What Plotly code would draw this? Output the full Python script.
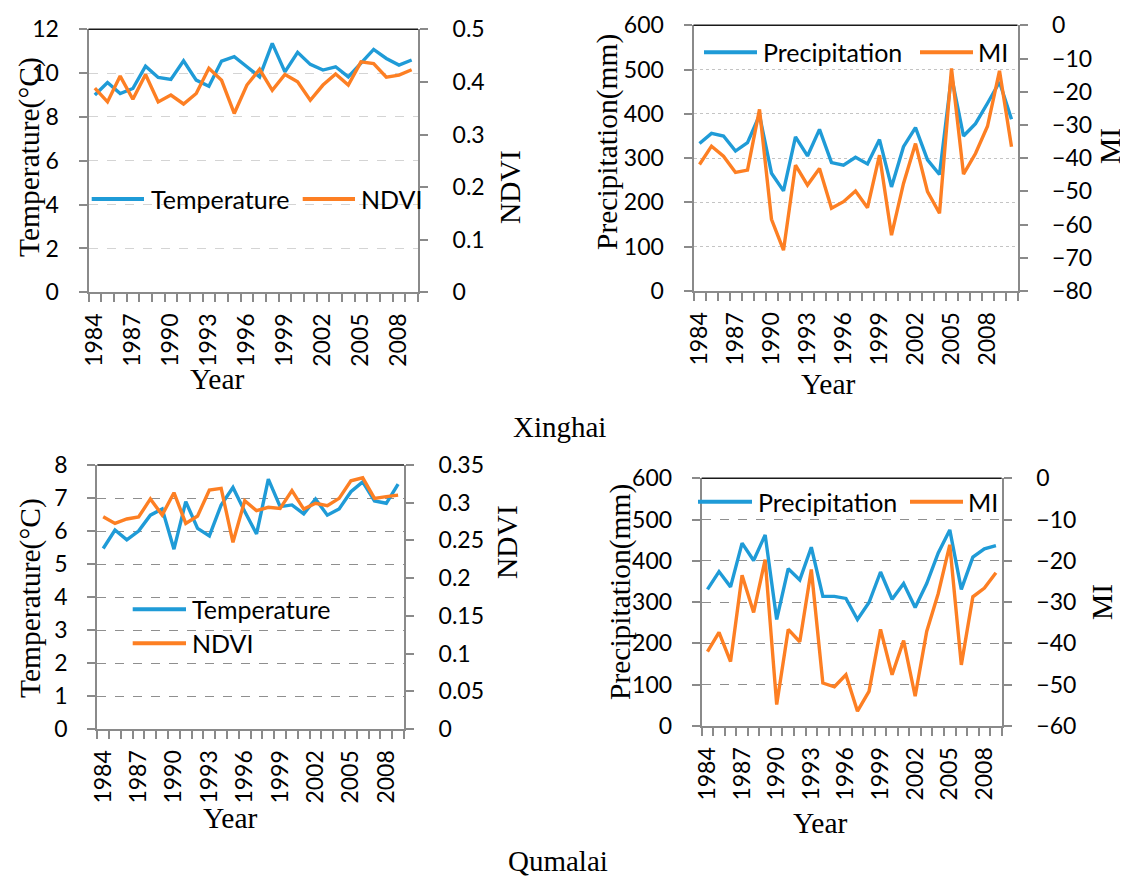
import plotly.graph_objects as go

# ---------------- data ----------------
years_a = list(range(1984, 2010))          # 26 years
years_b = list(range(1984, 2011))          # 27 years (Xinghai precipitation / MI)

xh_temperature = [9.0, 9.57, 9.07, 9.3, 10.32, 9.8, 9.71, 10.56, 9.68, 9.4, 10.55, 10.75, 10.29,
                  9.83, 11.36, 10.06, 10.95, 10.4, 10.14, 10.29, 9.83, 10.44, 11.08, 10.67, 10.37, 10.6]
xh_ndvi = [0.388, 0.362, 0.411, 0.367, 0.414, 0.362, 0.375, 0.358, 0.378, 0.426, 0.403, 0.340, 0.394,
           0.424, 0.384, 0.414, 0.400, 0.365, 0.394, 0.415, 0.394, 0.438, 0.435, 0.409, 0.413, 0.423]

xh_precip = [333, 356, 350, 316, 335, 397, 266, 226, 348, 305, 365, 290, 284, 302, 287, 342, 235,
             326, 369, 296, 263, 485, 350, 378, 424, 472, 388]
xh_mi = [-41.9, -36.4, -39.4, -44.3, -43.6, -25.3, -58.4, -67.7, -42.1, -48.1, -43.1, -55.1, -53.1,
         -49.9, -54.9, -39.1, -63.2, -47.6, -35.6, -50.1, -56.6, -13.0, -44.8, -38.6, -30.4, -13.7, -36.6]

qm_temperature = [5.47, 6.03, 5.73, 6.0, 6.48, 6.67, 5.45, 6.89, 6.08, 5.85, 6.79, 7.32, 6.59, 5.91,
                  7.57, 6.74, 6.79, 6.52, 6.97, 6.48, 6.67, 7.19, 7.49, 6.91, 6.84, 7.42]
qm_ndvi = [0.2815, 0.2726, 0.2784, 0.281, 0.305, 0.2837, 0.3133, 0.2726, 0.2824, 0.3168, 0.319, 0.2475,
           0.3027, 0.2894, 0.2939, 0.2925, 0.316, 0.2916, 0.2992, 0.296, 0.3058, 0.329, 0.333, 0.3058,
           0.308, 0.310]

qm_precip = [331, 374, 337, 443, 401, 463, 258, 381, 354, 433, 314, 314, 309, 258, 299, 373, 307, 345,
             287, 345, 419, 475, 331, 409, 429, 437]
qm_mi = [-42.0, -37.3, -44.4, -23.5, -32.5, -19.7, -54.8, -36.6, -39.6, -22.1, -49.6, -50.5, -47.6,
         -56.4, -51.6, -36.6, -47.6, -39.3, -52.8, -37.1, -27.9, -16.1, -45.2, -28.7, -26.6, -22.9]

year_ticks = [1984, 1987, 1990, 1993, 1996, 1999, 2002, 2005, 2008]
ndvi_ticks_qm = [0, 0.05, 0.1, 0.15, 0.2, 0.25, 0.3, 0.35]
ndvi_ticktext_qm = ["0", "0.05", "0.1", "0.15", "0.2", "0.25", "0.3", "0.35"]

# ---------------- style ----------------
OFF = 8                      # default page margin of the html body
W, H = 1128 - OFF, 876 - OFF
BLUE = "#1f9bd7"
ORANGE = "#fd7f23"
AXIS_GRAY = "#8a8a8a"
TICK_FONT = dict(family="Lato", size=23, color="black")
XTICK_FONT = dict(family="Lato", size=23, color="black")
TITLE_FONT = dict(family="Liberation Serif", size=29.5, color="black")
SITE_FONT = dict(family="Liberation Serif", size=29, color="black")
LEG_FONT = dict(family="Lato", size=25, color="black")


def px_x(v):
    return (v - OFF) / W


def px_y(v):
    return 1 - (v - OFF) / H


fig = go.Figure()

panels = [
    dict(xd=(88.5, 418), yd=(29.3, 292.3), years=years_a,
         left=xh_temperature, right=xh_ndvi, ln="Temperature", rn="NDVI",
         lr=[0, 12], ldt=2, rr=[0, 0.5], rdt=0.1, rtv=None, rtt=None,
         gdash="dash", gcol="#d4d4d4"),
    dict(xd=(693.5, 1017.5), yd=(25.3, 291), years=years_b,
         left=xh_precip, right=xh_mi, ln="Precipitation", rn="MI",
         lr=[0, 600], ldt=100, rr=[-80, 0], rdt=10, rtv=None, rtt=None,
         gdash="dot", gcol="#c4c4c4"),
    dict(xd=(97.3, 404), yd=(465, 729), years=years_a,
         left=qm_temperature, right=qm_ndvi, ln="Temperature", rn="NDVI",
         lr=[0, 8], ldt=1, rr=[0, 0.35], rdt=None, rtv=ndvi_ticks_qm, rtt=ndvi_ticktext_qm,
         gdash="dash", gcol="#8f8f8f"),
    dict(xd=(701.7, 1001.7), yd=(478.3, 726), years=years_a,
         left=qm_precip, right=qm_mi, ln="Precipitation", rn="MI",
         lr=[0, 600], ldt=100, rr=[-60, 0], rdt=10, rtv=None, rtt=None,
         gdash="dash", gcol="#8f8f8f"),
]

layout = {}
for i, p in enumerate(panels):
    xn = i + 1
    yl = 2 * i + 1
    yr = 2 * i + 2
    xname = "x" if xn == 1 else f"x{xn}"
    ylname = "y" if yl == 1 else f"y{yl}"
    yrname = f"y{yr}"

    fig.add_trace(go.Scatter(x=p["years"], y=p["left"], name=p["ln"], mode="lines",
                             line=dict(color=BLUE, width=3.4), xaxis=xname, yaxis=ylname,
                             showlegend=False))
    fig.add_trace(go.Scatter(x=p["years"], y=p["right"], name=p["rn"], mode="lines",
                             line=dict(color=ORANGE, width=3.4), xaxis=xname, yaxis=yrname,
                             showlegend=False))

    y0, y1 = p["yd"]
    xdom = [px_x(p["xd"][0]), px_x(p["xd"][1])]
    ydom = [px_y(y1), px_y(y0)]
    first, last = p["years"][0], p["years"][-1]

    layout["xaxis" if xn == 1 else f"xaxis{xn}"] = dict(
        domain=xdom, anchor=ylname, range=[first - 0.5, last + 0.5], automargin=False,
        tickmode="array", tickvals=year_ticks, ticktext=[str(t) for t in year_ticks],
        tickangle=-90, ticks="", tickfont=XTICK_FONT, ticklabelstandoff=10,
        showline=True, linecolor=AXIS_GRAY, linewidth=2, showgrid=False, zeroline=False,
        minor=dict(ticks="outside", ticklen=8, tickcolor=AXIS_GRAY, tickwidth=1.5,
                   tick0=first - 0.5, dtick=1, showgrid=False),
        fixedrange=True,
    )
    layout["yaxis" if yl == 1 else f"yaxis{yl}"] = dict(
        domain=ydom, anchor=xname, range=p["lr"], dtick=p["ldt"], tick0=0, automargin=False,
        ticks="outside", ticklen=8, tickcolor=AXIS_GRAY, tickwidth=1.5,
        tickfont=TICK_FONT, ticklabelstandoff=15,
        showline=True, linecolor=AXIS_GRAY, linewidth=2,
        showgrid=True, gridcolor=p["gcol"], griddash=p["gdash"], gridwidth=1.2,
        zeroline=False,
    )
    ry = dict(
        domain=ydom, anchor=xname, overlaying=ylname, side="right", range=p["rr"],
        automargin=False,
        ticks="outside", ticklen=8, tickcolor=AXIS_GRAY, tickwidth=1.5,
        tickfont=TICK_FONT, ticklabelstandoff=20,
        showline=True, linecolor=AXIS_GRAY, linewidth=2, showgrid=False, zeroline=False,
    )
    if p["rtv"] is not None:
        ry.update(tickmode="array", tickvals=p["rtv"], ticktext=p["rtt"])
    else:
        ry.update(dtick=p["rdt"], tick0=0)
    layout[f"yaxis{yr}"] = ry

fig.update_layout(**layout)

# top frame lines (dark)
for i, p in enumerate(panels):
    fig.add_shape(type="line", xref="paper", yref="paper",
                  x0=px_x(p["xd"][0]), x1=px_x(p["xd"][1]),
                  y0=px_y(p["yd"][0]), y1=px_y(p["yd"][0]),
                  line=dict(color="#1a1a1a", width=1.5))

# legends (line sample + label)
legend_items = [
    (91.7, 144, 199, BLUE, 149, "Temperature"),
    (302.7, 355, 199, ORANGE, 359, "NDVI"),
    (704, 757, 52.3, BLUE, 761, "Precipitation"),
    (920, 973, 52.3, ORANGE, 976, "MI"),
    (132.7, 186, 609.3, BLUE, 190, "Temperature"),
    (132.7, 186, 643.3, ORANGE, 190, "NDVI"),
    (698, 752, 501.7, BLUE, 756, "Precipitation"),
    (910, 963, 501.7, ORANGE, 966, "MI"),
]
for xs, xe, yy, col, tx, txt in legend_items:
    fig.add_shape(type="line", xref="paper", yref="paper",
                  x0=px_x(xs), x1=px_x(xe), y0=px_y(yy), y1=px_y(yy),
                  line=dict(color=col, width=4))
    fig.add_annotation(x=px_x(tx), y=px_y(yy), xref="paper", yref="paper",
                       text=txt, showarrow=False, xanchor="left", yanchor="middle",
                       font=LEG_FONT)

# axis titles
titles = [
    (29, 157, "Temperature(°C)", -90),
    (510, 187, "NDVI", -90),
    (217, 379, "Year", 0),
    (607, 142, "Precipitation(mm)", -90),
    (1110, 146, "MI", -90),
    (828, 384, "Year", 0),
    (30, 598, "Temperature(°C)", -90),
    (507, 542, "NDVI", -90),
    (230, 818, "Year", 0),
    (620, 592, "Precipitation(mm)", -90),
    (1102, 602, "MI", -90),
    (820, 823, "Year", 0),
]
for x, y, txt, ang in titles:
    fig.add_annotation(x=px_x(x), y=px_y(y), xref="paper", yref="paper", text=txt,
                       showarrow=False, textangle=ang, xanchor="center", yanchor="middle",
                       font=TITLE_FONT)

for x, y, txt in [(559, 427, "Xinghai"), (558, 861, "Qumalai")]:
    fig.add_annotation(x=px_x(x), y=px_y(y), xref="paper", yref="paper", text=txt,
                       showarrow=False, xanchor="center", yanchor="middle", font=SITE_FONT)

fig.update_layout(width=W, height=H, margin=dict(l=0, r=0, t=0, b=0),
                  paper_bgcolor="white", plot_bgcolor="white", showlegend=False)

fig.write_html("out.html")
